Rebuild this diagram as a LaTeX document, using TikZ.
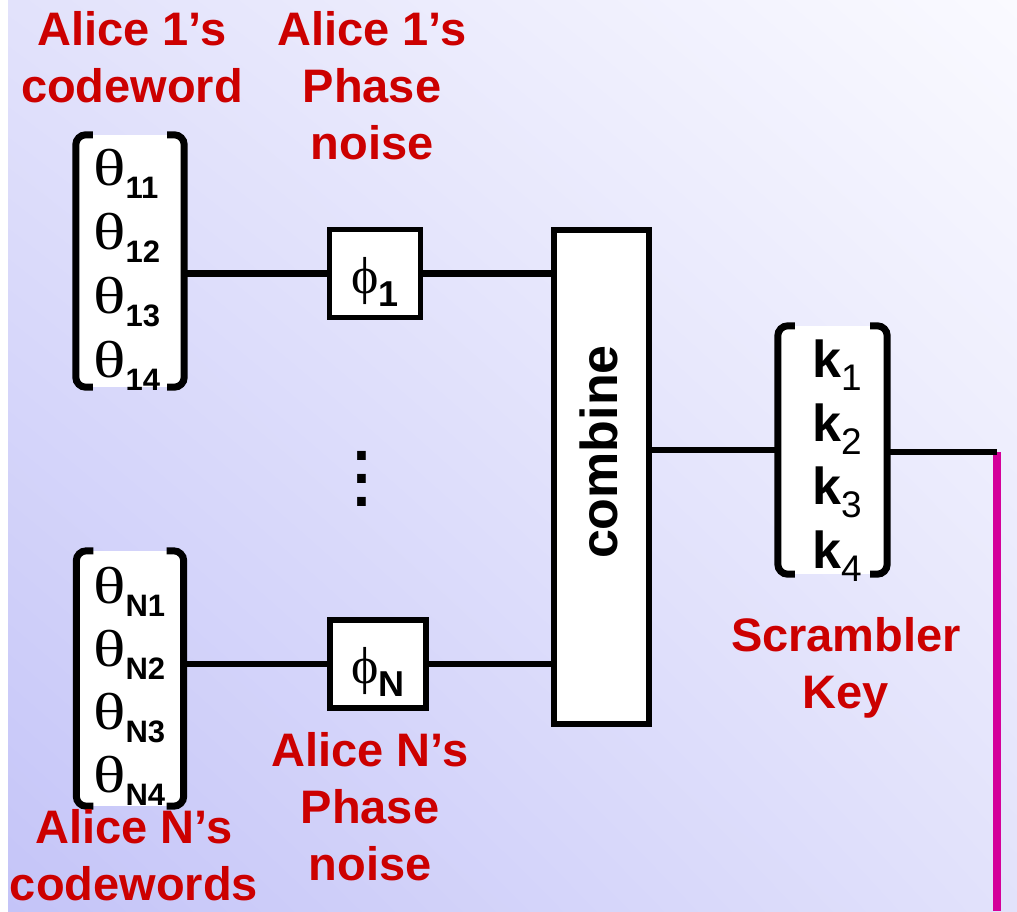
\documentclass[tikz,border=0pt]{standalone}
\usepackage{fontspec}
\setmainfont{Liberation Sans}
\newfontfamily\grkfont{Liberation Serif}
\usepackage{graphicx}
\usepackage{xcolor}
\usepackage{tikz}
\usetikzlibrary{positioning, calc, shadings}
\definecolor{alred}{HTML}{CC0000}
\definecolor{almagenta}{HTML}{D4009A}
\definecolor{bgdeep}{HTML}{C4C4F8}
\definecolor{bgmid}{HTML}{E2E2FB}
\definecolor{bglight}{HTML}{FAFAFF}
\newcommand{\thx}[1]{{\grkfont\scalebox{1.3}[1]{θ}}\raisebox{-13pt}{\fontsize{31}{31}\selectfont\bfseries #1}}
\newcommand{\kx}[1]{{\bfseries k}\raisebox{-13pt}{\fontsize{37}{37}\selectfont #1}}
\newcommand{\phx}[1]{{\grkfont ϕ}\raisebox{-13pt}{\fontsize{36}{36}\selectfont\bfseries #1}}

\begin{document}
\begin{tikzpicture}[
    x=1pt, y=-1pt,
    wire/.style={line width=6.5pt, draw=black},
    blk/.style={draw=black, line width=5.5pt, fill=white, inner sep=0pt},
    vec/.style={fill=white, inner sep=0pt},
    brk/.style={line width=7pt, rounded corners=10pt},
    entry/.style={anchor=base west, inner sep=0pt, font=\fontsize{52}{52}\selectfont},
    lbl/.style={anchor=north, inner sep=0pt, align=center, text=alred,
      font=\fontsize{47}{57}\selectfont\bfseries}
  ]
    \useasboundingbox (0,0) rectangle (1017,911);
    \fill[white] (0,0) rectangle (1017,911);
    \shade[upper left=bgmid, upper right=bglight, lower left=bgdeep, lower right=bgmid]
      (8,0) rectangle (1017,911);

    \node[vec, minimum width=108pt, minimum height=252pt] (cw1) at (130,261) {};
    \draw[brk] ($(cw1.north west)+(17,0)$) -- (cw1.north west) -- (cw1.south west) -- ++(17,0);
    \draw[brk] ($(cw1.north east)+(-17,0)$) -- (cw1.north east) -- (cw1.south east) -- ++(-17,0);
    \node[entry] (t11) at (93,185) {\thx{11}};
    \node[entry] (t12) at (93,249) {\thx{12}};
    \node[entry] (t13) at (93,313) {\thx{13}};
    \node[entry] (t14) at (93,377) {\thx{14}};

    \node[vec, minimum width=107pt, minimum height=255pt] (cwN) at (130,678.5) {};
    \draw[brk] ($(cwN.north west)+(17,0)$) -- (cwN.north west) -- (cwN.south west) -- ++(17,0);
    \draw[brk] ($(cwN.north east)+(-17,0)$) -- (cwN.north east) -- (cwN.south east) -- ++(-17,0);
    \node[entry] (tN1) at (93,603) {\thx{N1}};
    \node[entry] (tN2) at (93,666) {\thx{N2}};
    \node[entry] (tN3) at (93,729) {\thx{N3}};
    \node[entry] (tN4) at (93,792) {\thx{N4}};

    \node[blk, minimum width=91pt, minimum height=88pt, text height=44pt, text depth=5pt,
      font=\fontsize{52}{52}\selectfont] (phi1) at (375,273.5) {\phx{1}};
    \node[blk, minimum width=96pt, minimum height=88pt, text height=44pt, text depth=5pt,
      font=\fontsize{52}{52}\selectfont] (phiN) at (377.75,664) {\phx{N}};
    \node[font=\fontsize{61}{23}\selectfont\bfseries, align=center, inner sep=0pt] (gap) at (362,479) {.\\.\\.};

    \node[blk, minimum width=95pt, minimum height=494pt] (comb) at (601.5,477) {};
    \node[rotate=90, inner sep=0pt, font=\fontsize{52}{52}\selectfont\bfseries] (combtxt) at (599,452) {combine};

    \node[vec, minimum width=109pt, minimum height=248pt] (key) at (832.5,450) {};
    \draw[brk] ($(key.north west)+(17,0)$) -- (key.north west) -- (key.south west) -- ++(17,0);
    \draw[brk] ($(key.north east)+(-17,0)$) -- (key.north east) -- (key.south east) -- ++(-17,0);
    \node[entry] (k1) at (812,377) {\kx{1}};
    \node[entry] (k2) at (812,441) {\kx{2}};
    \node[entry] (k3) at (812,504) {\kx{3}};
    \node[entry] (k4) at (812,568) {\kx{4}};

    \draw[wire] (cw1.east |- phi1.west) -- (phi1.west);
    \draw[wire] (phi1.east) -- (phi1.east -| comb.west);
    \draw[wire] (cwN.east |- phiN.west) -- (phiN.west);
    \draw[wire] (phiN.east) -- (phiN.east -| comb.west);
    \draw[wire] (comb.east |- key.west) -- (key.west);
    \coordinate (kend) at (997,452);
    \coordinate (kbot) at (997,911);
    \draw[line width=8pt, draw=almagenta] (kend) -- (kbot);
    \draw[wire] (key.east |- kend) -- (kend);

    \node[lbl] (lcw1) at (132,11) {Alice 1’s\\codeword};
    \node[lbl] (lph1) at (372,11) {Alice 1’s\\Phase\\noise};
    \node[lbl] (lkey) at (846,617) {Scrambler\\Key};
    \node[lbl] (lphN) at (370,732) {Alice N’s\\Phase\\noise};
    \node[lbl] (lcwN) at (134,809) {Alice N’s\\codewords};
  \end{tikzpicture}
\end{document}
